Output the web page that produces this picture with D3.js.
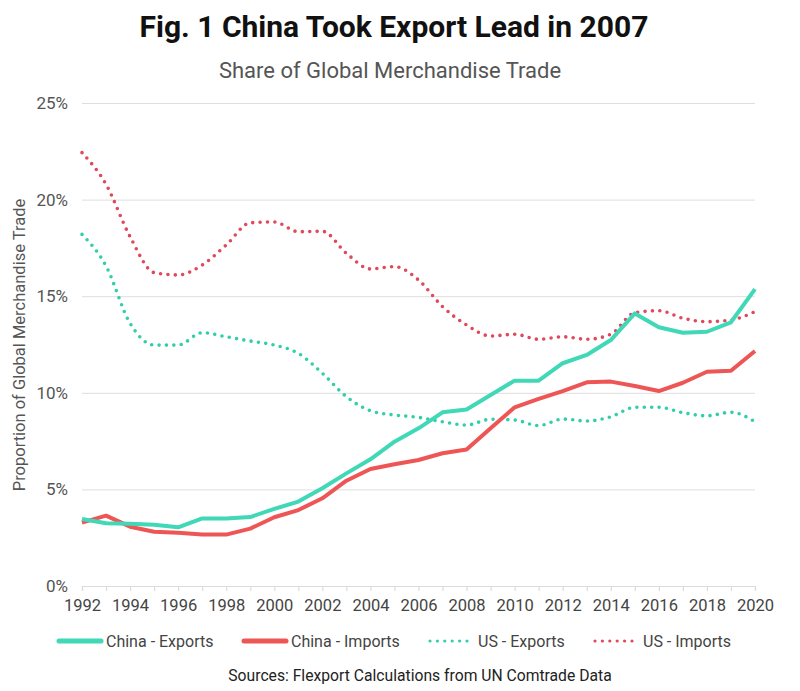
<!DOCTYPE html>
<html>
<head>
<meta charset="utf-8">
<script src="https://cdn.jsdelivr.net/npm/d3@7"></script>
<style>
  html, body { margin: 0; padding: 0; background: #fff; }
  svg { display: block; font-family: Roboto, "Noto Sans", sans-serif; }
</style>
</head>
<body>
<svg id="chart" width="800" height="691"></svg>
<script>
const years = d3.range(1992, 2021);
const chinaExports = [3.47, 3.25, 3.22, 3.17, 3.04, 3.50, 3.50, 3.57, 3.99, 4.37, 5.06, 5.83, 6.56, 7.47, 8.16, 8.99, 9.14, 9.89, 10.63, 10.63, 11.53, 11.96, 12.73, 14.11, 13.39, 13.11, 13.16, 13.65, 15.37];
const chinaImports = [3.28, 3.64, 3.07, 2.81, 2.76, 2.66, 2.66, 2.97, 3.56, 3.93, 4.54, 5.45, 6.06, 6.30, 6.52, 6.87, 7.07, 8.16, 9.25, 9.68, 10.09, 10.54, 10.58, 10.35, 10.09, 10.52, 11.09, 11.14, 12.16];
const usExports = [18.20, 16.56, 13.60, 12.47, 12.47, 13.11, 12.90, 12.68, 12.47, 12.04, 11.01, 9.80, 9.07, 8.85, 8.73, 8.50, 8.33, 8.63, 8.59, 8.30, 8.64, 8.54, 8.76, 9.25, 9.25, 8.97, 8.81, 8.99, 8.50];
const usImports = [22.43, 20.79, 18.08, 16.22, 16.10, 16.61, 17.65, 18.80, 18.84, 18.34, 18.36, 17.22, 16.41, 16.53, 15.84, 14.46, 13.51, 12.94, 13.03, 12.77, 12.90, 12.77, 13.03, 14.15, 14.25, 13.86, 13.68, 13.77, 14.20];
const yTicks = [0, 5, 10, 15, 20, 25];
const xTickYears = d3.range(1992, 2021, 2);

const seriesNames = ["China - Exports", "China - Imports", "US - Exports", "US - Imports"];
const seriesValues = [chinaExports, chinaImports, usExports, usImports];
const seriesColors = ["#40d8b6", "#ee5656", "#2fcfa8", "#e0485c"];
const seriesDotted = [false, false, true, true];

const title = "Fig. 1 China Took Export Lead in 2007";
const subtitle = "Share of Global Merchandise Trade";
const yTitle = "Proportion of Global Merchandise Trade";
const source = "Sources: Flexport Calculations from UN Comtrade Data";

const svg = d3.select("#chart");
const x = d3.scaleLinear().domain([1992, 2020]).range([82, 755]);
const y = d3.scaleLinear().domain([0, 25]).range([586, 103]);

// Titles
svg.append("text").attr("x", 394).attr("y", 37).attr("text-anchor", "middle")
  .attr("font-size", 30).attr("font-weight", 700).attr("fill", "#111").text(title);
svg.append("text").attr("x", 390).attr("y", 78).attr("text-anchor", "middle")
  .attr("font-size", 22).attr("fill", "#555").text(subtitle);

// Gridlines + y labels
const yAxis = d3.axisLeft(y).tickValues(yTicks).tickSize(-(755 - 82)).tickPadding(14)
  .tickFormat(d => d + "%");
const gy = svg.append("g").attr("transform", "translate(82,0)").call(yAxis);
gy.select(".domain").remove();
gy.selectAll(".tick line").attr("stroke", "#dedede").attr("stroke-width", 1);
gy.selectAll(".tick text").attr("font-size", 17).attr("fill", "#555")
  .attr("font-family", "Roboto, sans-serif");

// X axis
const xAxis = d3.axisBottom(x).tickValues(years).tickSize(5).tickPadding(8)
  .tickFormat(d => xTickYears.includes(d) ? String(d) : "");
const gx = svg.append("g").attr("transform", "translate(0,586)").call(xAxis);
gx.select(".domain").attr("stroke", "#dcdcdc").attr("stroke-width", 1.2);
gx.selectAll(".tick line").attr("stroke", "#dcdcdc").attr("stroke-width", 1.2);
gx.selectAll(".tick text").attr("font-size", 16.5).attr("fill", "#444")
  .attr("font-family", "Roboto, sans-serif");

// Y title
svg.append("text").attr("transform", "translate(25,345) rotate(-90)")
  .attr("text-anchor", "middle").attr("font-size", 16.5).attr("fill", "#555").text(yTitle);

// Lines
const order = [2, 3, 1, 0];
order.forEach(i => {
  const data = years.map((yr, j) => [yr, seriesValues[i][j]]);
  const line = d3.line().x(d => x(d[0])).y(d => y(d[1]))
    .curve(seriesDotted[i] ? d3.curveMonotoneX : d3.curveLinear);
  const p = svg.append("path").datum(data).attr("d", line)
    .attr("fill", "none").attr("stroke", seriesColors[i]);
  if (seriesDotted[i]) {
    p.attr("stroke-width", 3.6).attr("stroke-linecap", "round").attr("stroke-dasharray", "0,7.4");
  } else {
    p.attr("stroke-width", 4).attr("stroke-linejoin", "round").attr("stroke-linecap", "butt");
  }
});

// Legend
const legendX = [57, 242, 428, 593];
const legendY = 641;
seriesNames.forEach((name, i) => {
  const g = svg.append("g");
  const x0 = legendX[i];
  if (seriesDotted[i]) {
    g.append("line").attr("x1", x0 + 2).attr("x2", x0 + 40).attr("y1", legendY).attr("y2", legendY)
      .attr("stroke", seriesColors[i]).attr("stroke-width", 3.2).attr("stroke-linecap", "round")
      .attr("stroke-dasharray", "0,7.4");
    g.append("text").attr("x", x0 + 50).attr("y", legendY + 5.5).attr("font-size", 16)
      .attr("fill", "#444").text(name);
  } else {
    g.append("line").attr("x1", x0 + 2).attr("x2", x0 + 44).attr("y1", legendY).attr("y2", legendY)
      .attr("stroke", seriesColors[i]).attr("stroke-width", 5).attr("stroke-linecap", "round");
    g.append("text").attr("x", x0 + 49).attr("y", legendY + 5.5).attr("font-size", 16)
      .attr("fill", "#444").text(name);
  }
});

// Source
svg.append("text").attr("x", 420).attr("y", 681).attr("text-anchor", "middle")
  .attr("font-size", 15.7).attr("fill", "#222").text(source);
</script>
</body>
</html>
